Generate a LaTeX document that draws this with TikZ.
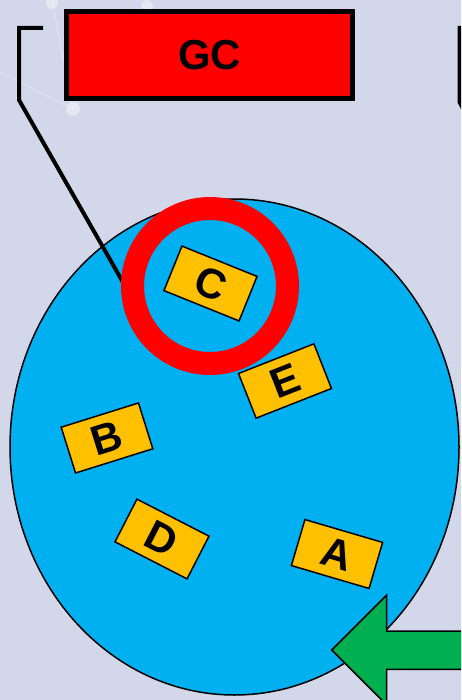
\documentclass[tikz,border=0pt]{standalone}
\usepackage{fontspec}
\setmainfont{Liberation Sans}
\usepackage{tikz}
\usetikzlibrary{shapes.geometric}
\definecolor{backdrop}{HTML}{D2D8EA}
\definecolor{cellblue}{HTML}{00B0F0}
\definecolor{geneorange}{HTML}{FFC000}
\definecolor{arrowgreen}{HTML}{00B050}
\definecolor{markred}{HTML}{FF0000}

\begin{document}
\begin{tikzpicture}[
  x=1pt, y=-1pt,
  titlebox/.style = {draw=black, fill=markred, line width=5pt, minimum width=286pt, minimum height=87pt, inner sep=0pt, font=\fontsize{42}{42}\selectfont\bfseries},
  cellshape/.style = {ellipse, draw=black, fill=cellblue, line width=1.5pt, minimum width=449pt, minimum height=496pt, inner sep=0pt},
  ringmark/.style = {circle, draw=markred, line width=23pt, minimum size=155pt, inner sep=0pt},
  genebox/.style = {draw=black, fill=geneorange, line width=1.5pt, minimum width=81pt, minimum height=48pt, inner sep=0pt, font=\fontsize{42}{42}\selectfont\bfseries},
  callout/.style = {draw=black, line width=4pt},
  bigarrow/.style = {draw=black, fill=arrowgreen, line width=1.5pt, line join=miter},
  deco/.style = {white, opacity=0.3, line width=1pt},
]
\useasboundingbox (0,0) rectangle (461,700);
\fill[backdrop] (0,0) rectangle (461,700);
\clip (0,0) rectangle (461,700);
% faint background network
\draw[deco] (52,0) -- (73,109) -- (0,72);
\draw[deco] (73,109) -- (147,5);
\fill[white, opacity=0.4] (52,3) circle (6pt) (147,6) circle (6pt) (73,109) circle (7pt);
% cell
\node[cellshape] (cell) at (234.5,447) {};
% callouts
\coordinate (hook) at (43,28);
\coordinate (tail) at (128,291);
\draw[callout] (hook) -- (19,28) -- (19,100) -- (tail);
\draw[callout] (470,28) -- (459.5,28) -- (459.5,102) -- (468,118);
\node[titlebox] (gc) at (209.5,55) {GC};
% marked gene
\node[ringmark] (ring) at (210,286) {};
\node[genebox, rotate=-22] (c) at (210.5,283.5) {C};
\node[genebox, rotate=21.5] (e) at (285,381) {E};
\node[genebox, rotate=17.4] (b) at (107,438) {B};
\node[genebox, rotate=-27.2] (d) at (162,539) {D};
\node[genebox, rotate=-16.4] (a) at (337,554) {A};
% incoming arrow
\draw[bigarrow] (331.7,650) -- (386.7,595) -- (386.7,631) -- (475,631) -- (475,669.3) -- (386.7,669.3) -- (386.7,705) -- cycle;
\end{tikzpicture}
\end{document}
